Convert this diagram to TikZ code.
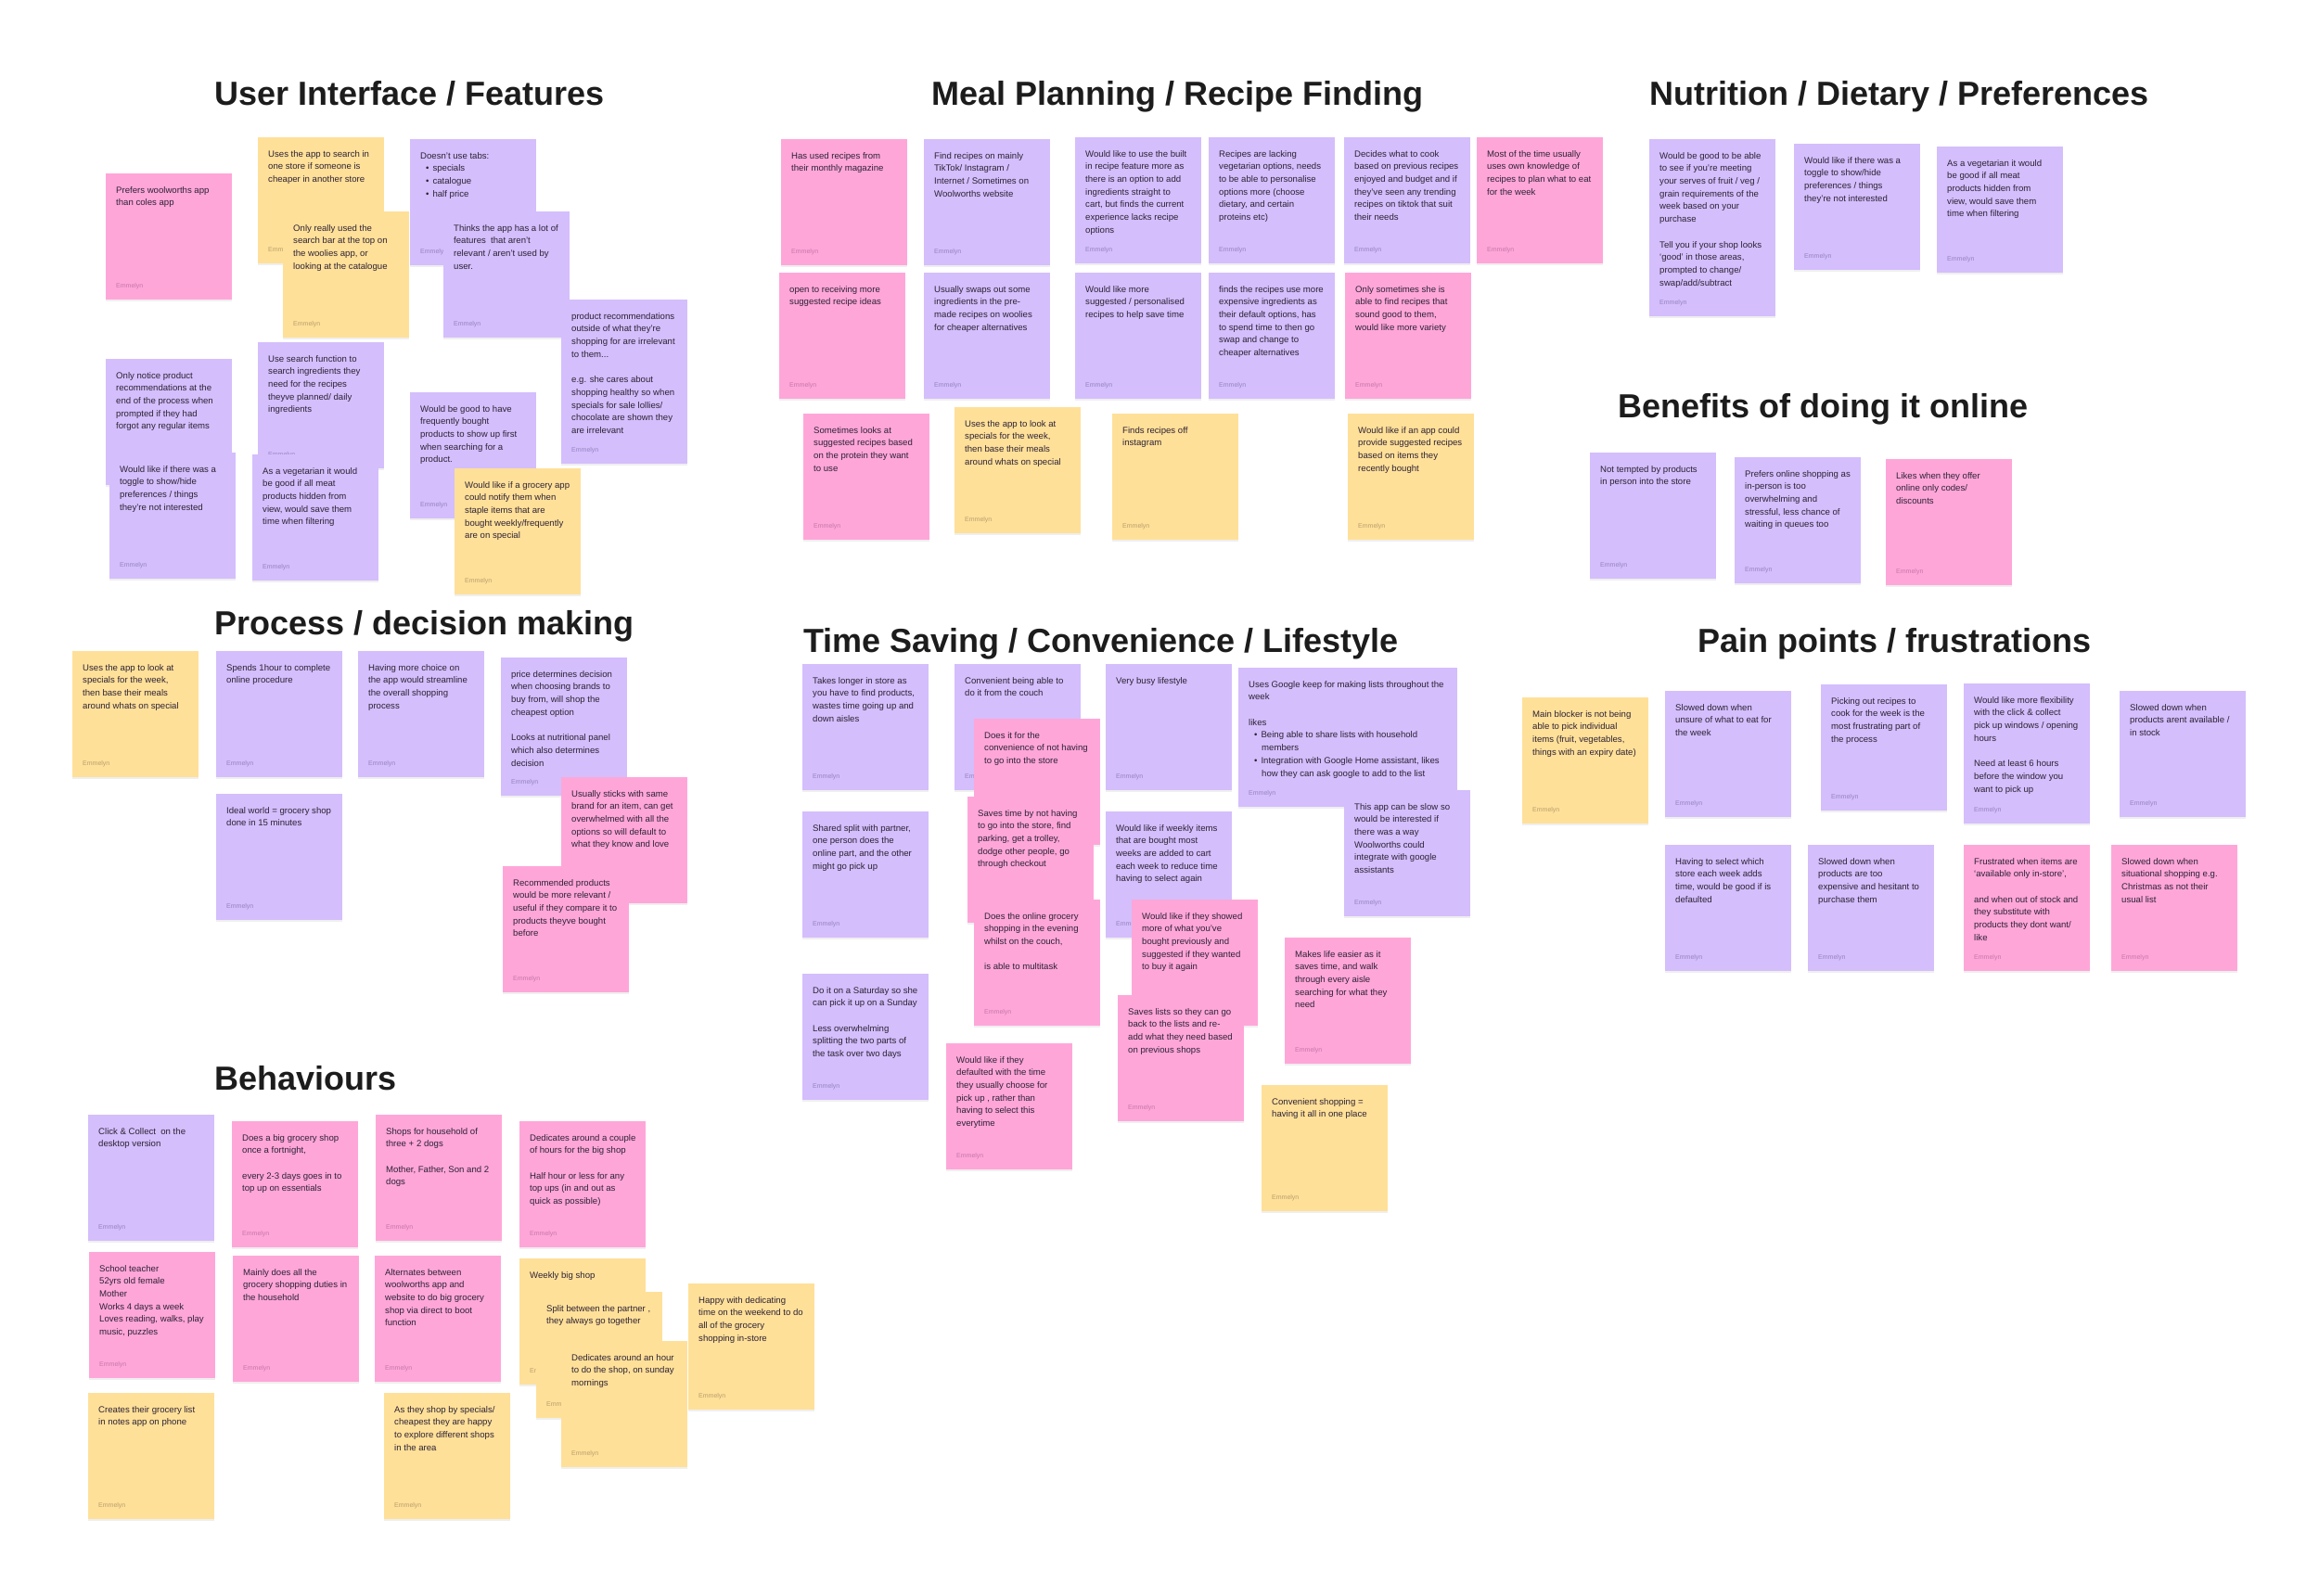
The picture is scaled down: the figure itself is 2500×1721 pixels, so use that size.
\documentclass[tikz,border=0pt]{standalone}
\usepackage{fontspec}
\setmainfont{Liberation Sans}
\usetikzlibrary{shadows}
\definecolor{stkpink}{RGB}{255,166,217}
\definecolor{stkvio}{RGB}{212,190,252}
\definecolor{stkylw}{RGB}{255,224,153}
\definecolor{inkdark}{RGB}{44,34,52}
\definecolor{authpink}{RGB}{196,120,168}
\definecolor{authvio}{RGB}{150,132,192}
\definecolor{authylw}{RGB}{184,160,108}
\definecolor{titleink}{RGB}{28,28,28}
\tikzset{
  note/.style={rectangle, anchor=north west, inner sep=0pt,
               minimum width=136pt, minimum height=136pt,
               drop shadow={shadow xshift=0pt, shadow yshift=-2pt, opacity=0.12}},
  txt/.style={anchor=north west, xshift=11pt, yshift=-14pt, inner sep=0pt,
              align=left, text=inkdark, font=\fontsize{9.6}{13.7}\selectfont},
  auth/.style={anchor=base west, xshift=11pt, yshift=13pt, inner sep=0pt,
               font=\fontsize{7}{8}\selectfont},
  pnk/.style={note, fill=stkpink, label={[auth, text=authpink]south west:Emmelyn}},
  vio/.style={note, fill=stkvio, label={[auth, text=authvio]south west:Emmelyn}},
  ylw/.style={note, fill=stkylw, label={[auth, text=authylw]south west:Emmelyn}},
  heading/.style={anchor=base west, inner sep=0pt, text=titleink,
                  font=\fontsize{36}{40}\selectfont\bfseries},
}

\begin{document}
\begin{tikzpicture}[x=1pt, y=-1pt]
  \useasboundingbox[fill=white] (0,0) rectangle (2500,1721);

  % headings
  \node[heading] (hUI) at (231,113) {User Interface / Features};
  \node[heading] (hMP) at (1004,113) {Meal Planning / Recipe Finding};
  \node[heading] (hND) at (1778,113) {Nutrition / Dietary / Preferences};
  \node[heading] (hBN) at (1744,450) {Benefits of doing it online};
  \node[heading] (hPD) at (231,684) {Process / decision making};
  \node[heading] (hTS) at (866,703) {Time Saving / Convenience / Lifestyle};
  \node[heading] (hPP) at (1830,703) {Pain points / frustrations};
  \node[heading] (hBH) at (231,1175) {Behaviours};

  % user interface / features
  \node[pnk, label={[txt]north west:{Prefers woolworths app\\than coles app}}] (ui1) at (114,187) {};
  \node[ylw, label={[txt]north west:{Uses the app to search in\\one store if someone is\\cheaper in another store}}] (ui2) at (278,148) {};
  \node[ylw, label={[txt]north west:{Only really used the\\search bar at the top on\\the woolies app, or\\looking at the catalogue}}] (ui3) at (305,228) {};
  \node[vio, label={[txt]north west:{Doesn’t use tabs:\\\hspace*{6pt}\textbullet\hspace{4pt}specials\\\hspace*{6pt}\textbullet\hspace{4pt}catalogue\\\hspace*{6pt}\textbullet\hspace{4pt}half price}}] (ui4) at (442,150) {};
  \node[vio, label={[txt]north west:{Thinks the app has a lot of\\features\ \ that aren’t\\relevant / aren’t used by\\user.}}] (ui5) at (478,228) {};
  \node[vio, minimum height=177pt, label={[txt]north west:{product recommendations\\outside of what they’re\\shopping for are irrelevant\\to them...\\[13.7pt]e.g. she cares about\\shopping healthy so when\\specials for sale lollies/\\chocolate are shown they\\are irrelevant}}] (ui6) at (605,323) {};
  \node[vio, label={[txt]north west:{Only notice product\\recommendations at the\\end of the process when\\prompted if they had\\forgot any regular items}}] (ui7) at (114,387) {};
  \node[vio, label={[txt]north west:{Use search function to\\search ingredients they\\need for the recipes\\theyve planned/ daily\\ingredients}}] (ui8) at (278,369) {};
  \node[vio, label={[txt]north west:{Would like if there was a\\toggle to show/hide\\preferences / things\\they’re not interested}}] (ui9) at (118,488) {};
  \node[vio, label={[txt]north west:{As a vegetarian it would\\be good if all meat\\products hidden from\\view, would save them\\time when filtering}}] (ui10) at (272,490) {};
  \node[vio, label={[txt]north west:{Would be good to have\\frequently bought\\products to show up first\\when searching for a\\product.}}] (ui11) at (442,423) {};
  \node[ylw, label={[txt]north west:{Would like if a grocery app\\could notify them when\\staple items that are\\bought weekly/frequently\\are on special}}] (ui12) at (490,505) {};

  % process / decision making
  \node[ylw, label={[txt]north west:{Uses the app to look at\\specials for the week,\\then base their meals\\around whats on special}}] (pd1) at (78,702) {};
  \node[vio, label={[txt]north west:{Spends 1hour to complete\\online procedure}}] (pd2) at (233,702) {};
  \node[vio, label={[txt]north west:{Having more choice on\\the app would streamline\\the overall shopping\\process}}] (pd3) at (386,702) {};
  \node[vio, minimum height=149pt, label={[txt]north west:{price determines decision\\when choosing brands to\\buy from, will shop the\\cheapest option\\[13.7pt]Looks at nutritional panel\\which also determines\\decision}}] (pd4) at (540,709) {};
  \node[vio, label={[txt]north west:{Ideal world = grocery shop\\done in 15 minutes}}] (pd5) at (233,856) {};
  \node[pnk, label={[txt]north west:{Usually sticks with same\\brand for an item, can get\\overwhelmed with all the\\options so will default to\\what they know and love}}] (pd6) at (605,838) {};
  \node[pnk, label={[txt]north west:{Recommended products\\would be more relevant /\\useful if they compare it to\\products theyve bought\\before}}] (pd7) at (542,934) {};

  % behaviours
  \node[vio, label={[txt]north west:{Click \& Collect\ \ on the\\desktop version}}] (bh1) at (95,1202) {};
  \node[pnk, label={[txt]north west:{Does a big grocery shop\\once a fortnight,\\[13.7pt]every 2-3 days goes in to\\top up on essentials}}] (bh2) at (250,1209) {};
  \node[pnk, label={[txt]north west:{Shops for household of\\three + 2 dogs\\[13.7pt]Mother, Father, Son and 2\\dogs}}] (bh3) at (405,1202) {};
  \node[pnk, label={[txt]north west:{Dedicates around a couple\\of hours for the big shop\\[13.7pt]Half hour or less for any\\top ups (in and out as\\quick as possible)}}] (bh4) at (560,1209) {};
  \node[pnk, label={[txt]north west:{School teacher\\52yrs old female\\Mother\\Works 4 days a week\\Loves reading, walks, play\\music, puzzles}}] (bh5) at (96,1350) {};
  \node[pnk, label={[txt]north west:{Mainly does all the\\grocery shopping duties in\\the household}}] (bh6) at (251,1354) {};
  \node[pnk, label={[txt]north west:{Alternates between\\woolworths app and\\website to do big grocery\\shop via direct to boot\\function}}] (bh7) at (404,1354) {};
  \node[ylw, label={[txt]north west:{Creates their grocery list\\in notes app on phone}}] (bh8) at (95,1502) {};
  \node[ylw, label={[txt]north west:{As they shop by specials/\\cheapest they are happy\\to explore different shops\\in the area}}] (bh9) at (414,1502) {};
  \node[ylw, label={[txt]north west:{Weekly big shop}}] (bh10) at (560,1357) {};
  \node[ylw, label={[txt]north west:{Split between the partner ,\\they always go together}}] (bh11) at (578,1393) {};
  \node[ylw, label={[txt]north west:{Dedicates around an hour\\to do the shop, on sunday\\mornings}}] (bh12) at (605,1446) {};
  \node[ylw, label={[txt]north west:{Happy with dedicating\\time on the weekend to do\\all of the grocery\\shopping in-store}}] (bh13) at (742,1384) {};

  % meal planning / recipe finding
  \node[pnk, label={[txt]north west:{Has used recipes from\\their monthly magazine}}] (mp1) at (842,150) {};
  \node[vio, label={[txt]north west:{Find recipes on mainly\\TikTok/ Instagram /\\Internet / Sometimes on\\Woolworths website}}] (mp2) at (996,150) {};
  \node[vio, label={[txt]north west:{Would like to use the built\\in recipe feature more as\\there is an option to add\\ingredients straight to\\cart, but finds the current\\experience lacks recipe\\options}}] (mp3) at (1159,148) {};
  \node[vio, label={[txt]north west:{Recipes are lacking\\vegetarian options, needs\\to be able to personalise\\options more (choose\\dietary, and certain\\proteins etc)}}] (mp4) at (1303,148) {};
  \node[vio, label={[txt]north west:{Decides what to cook\\based on previous recipes\\enjoyed and budget and if\\they’ve seen any trending\\recipes on tiktok that suit\\their needs}}] (mp5) at (1449,148) {};
  \node[pnk, label={[txt]north west:{Most of the time usually\\uses own knowledge of\\recipes to plan what to eat\\for the week}}] (mp6) at (1592,148) {};
  \node[pnk, label={[txt]north west:{open to receiving more\\suggested recipe ideas}}] (mp7) at (840,294) {};
  \node[vio, label={[txt]north west:{Usually swaps out some\\ingredients in the pre-\\made recipes on woolies\\for cheaper alternatives}}] (mp8) at (996,294) {};
  \node[vio, label={[txt]north west:{Would like more\\suggested / personalised\\recipes to help save time}}] (mp9) at (1159,294) {};
  \node[vio, label={[txt]north west:{finds the recipes use more\\expensive ingredients as\\their default options, has\\to spend time to then go\\swap and change to\\cheaper alternatives}}] (mp10) at (1303,294) {};
  \node[pnk, label={[txt]north west:{Only sometimes she is\\able to find recipes that\\sound good to them,\\would like more variety}}] (mp11) at (1450,294) {};
  \node[pnk, label={[txt]north west:{Sometimes looks at\\suggested recipes based\\on the protein they want\\to use}}] (mp12) at (866,446) {};
  \node[ylw, label={[txt]north west:{Uses the app to look at\\specials for the week,\\then base their meals\\around whats on special}}] (mp13) at (1029,439) {};
  \node[ylw, label={[txt]north west:{Finds recipes off\\instagram}}] (mp14) at (1199,446) {};
  \node[ylw, label={[txt]north west:{Would like if an app could\\provide suggested recipes\\based on items they\\recently bought}}] (mp15) at (1453,446) {};

  % nutrition / dietary / preferences
  \node[vio, minimum height=191pt, label={[txt]north west:{Would be good to be able\\to see if you’re meeting\\your serves of fruit / veg /\\grain requirements of the\\week based on your\\purchase\\[13.7pt]Tell you if your shop looks\\‘good’ in those areas,\\prompted to change/\\swap/add/subtract}}] (nd1) at (1778,150) {};
  \node[vio, label={[txt]north west:{Would like if there was a\\toggle to show/hide\\preferences / things\\they’re not interested}}] (nd2) at (1934,155) {};
  \node[vio, label={[txt]north west:{As a vegetarian it would\\be good if all meat\\products hidden from\\view, would save them\\time when filtering}}] (nd3) at (2088,158) {};

  % benefits of doing it online
  \node[vio, label={[txt]north west:{Not tempted by products\\in person into the store}}] (bn1) at (1714,488) {};
  \node[vio, label={[txt]north west:{Prefers online shopping as\\in-person is too\\overwhelming and\\stressful, less chance of\\waiting in queues too}}] (bn2) at (1870,493) {};
  \node[pnk, label={[txt]north west:{Likes when they offer\\online only codes/\\discounts}}] (bn3) at (2033,495) {};

  % time saving / convenience / lifestyle
  \node[vio, label={[txt]north west:{Takes longer in store as\\you have to find products,\\wastes time going up and\\down aisles}}] (ts1) at (865,716) {};
  \node[vio, label={[txt]north west:{Convenient being able to\\do it from the couch}}] (ts2) at (1029,716) {};
  \node[pnk, label={[txt]north west:{Does it for the\\convenience of not having\\to go into the store}}] (ts3) at (1050,775) {};
  \node[pnk, label={[txt]north west:{Saves time by not having\\to go into the store, find\\parking, get a trolley,\\dodge other people, go\\through checkout}}] (ts4) at (1043,859) {};
  \node[pnk, label={[txt]north west:{Does the online grocery\\shopping in the evening\\whilst on the couch,\\[13.7pt]is able to multitask}}] (ts5) at (1050,970) {};
  \node[vio, label={[txt]north west:{Shared split with partner,\\one person does the\\online part, and the other\\might go pick up}}] (ts6) at (865,875) {};
  \node[vio, label={[txt]north west:{Do it on a Saturday so she\\can pick it up on a Sunday\\[13.7pt]Less overwhelming\\splitting the two parts of\\the task over two days}}] (ts7) at (865,1050) {};
  \node[pnk, label={[txt]north west:{Would like if they\\defaulted with the time\\they usually choose for\\pick up , rather than\\having to select this\\everytime}}] (ts8) at (1020,1125) {};
  \node[vio, label={[txt]north west:{Very busy lifestyle}}] (ts9) at (1192,716) {};
  \node[vio, minimum width=236pt, minimum height=150pt, label={[txt]north west:{Uses Google keep for making lists throughout the\\week\\[13.7pt]likes\\\hspace*{6pt}\textbullet\hspace{4pt}Being able to share lists with household\\\hspace*{14pt}members\\\hspace*{6pt}\textbullet\hspace{4pt}Integration with Google Home assistant, likes\\\hspace*{14pt}how they can ask google to add to the list}}] (ts10) at (1335,720) {};
  \node[vio, label={[txt]north west:{This app can be slow so\\would be interested if\\there was a way\\Woolworths could\\integrate with google\\assistants}}] (ts11) at (1449,852) {};
  \node[vio, label={[txt]north west:{Would like if weekly items\\that are bought most\\weeks are added to cart\\each week to reduce time\\having to select again}}] (ts12) at (1192,875) {};
  \node[pnk, label={[txt]north west:{Would like if they showed\\more of what you’ve\\bought previously and\\suggested if they wanted\\to buy it again}}] (ts13) at (1220,970) {};
  \node[pnk, label={[txt]north west:{Saves lists so they can go\\back to the lists and re-\\add what they need based\\on previous shops}}] (ts14) at (1205,1073) {};
  \node[pnk, label={[txt]north west:{Makes life easier as it\\saves time, and walk\\through every aisle\\searching for what they\\need}}] (ts15) at (1385,1011) {};
  \node[ylw, label={[txt]north west:{Convenient shopping =\\having it all in one place}}] (ts16) at (1360,1170) {};

  % pain points / frustrations
  \node[ylw, label={[txt]north west:{Main blocker is not being\\able to pick individual\\items (fruit, vegetables,\\things with an expiry date)}}] (pp1) at (1641,752) {};
  \node[vio, label={[txt]north west:{Slowed down when\\unsure of what to eat for\\the week}}] (pp2) at (1795,745) {};
  \node[vio, label={[txt]north west:{Picking out recipes to\\cook for the week is the\\most frustrating part of\\the process}}] (pp3) at (1963,738) {};
  \node[vio, minimum height=151pt, label={[txt]north west:{Would like more flexibility\\with the click \& collect\\pick up windows / opening\\hours\\[13.7pt]Need at least 6 hours\\before the window you\\want to pick up}}] (pp4) at (2117,737) {};
  \node[vio, label={[txt]north west:{Slowed down when\\products arent available /\\in stock}}] (pp5) at (2285,745) {};
  \node[vio, label={[txt]north west:{Having to select which\\store each week adds\\time, would be good if is\\defaulted}}] (pp6) at (1795,911) {};
  \node[vio, label={[txt]north west:{Slowed down when\\products are too\\expensive and hesitant to\\purchase them}}] (pp7) at (1949,911) {};
  \node[pnk, label={[txt]north west:{Frustrated when items are\\‘available only in-store’,\\[13.7pt]and when out of stock and\\they substitute with\\products they dont want/\\like}}] (pp8) at (2117,911) {};
  \node[pnk, label={[txt]north west:{Slowed down when\\situational shopping e.g.\\Christmas as not their\\usual list}}] (pp9) at (2276,911) {};
\end{tikzpicture}
\end{document}
